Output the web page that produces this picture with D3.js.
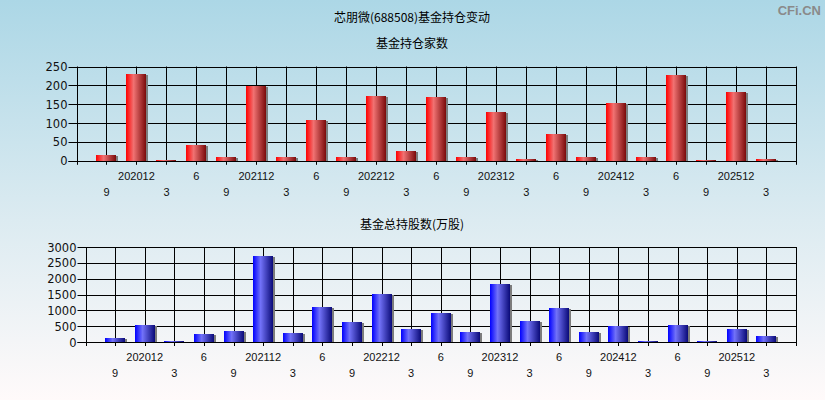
<!DOCTYPE html>
<html>
<head>
<meta charset="utf-8">
<script src="https://cdn.jsdelivr.net/npm/d3@7"></script>
<style>
  html, body { margin: 0; padding: 0; }
  svg { display: block; }
</style>
</head>
<body>
<svg id="chart" width="825" height="400"></svg>
<script>
// ---- data ----
const mainTitle = "芯朋微(688508)基金持仓变动";
const countTitle = "基金持仓家数";
const sharesTitle = "基金总持股数(万股)";
const periods = ["9","202012","3","6","9","202112","3","6","9","202212","3","6",
                 "9","202312","3","6","9","202412","3","6","9","202512","3"];
const fundCounts = [16,230,3,43,11,199,11,109,9,172,27,170,9,130,6,70,11,154,9,228,3,183,6];
const fundShares = [140,550,40,263,358,2730,295,1116,642,1527,421,927,326,1843,674,1085,326,495,42,547,30,421,200];
const countTicks = [0,50,100,150,200,250];
const shareTicks = [0,500,1000,1500,2000,2500,3000];

const svg = d3.select("#chart");
const W = 825, H = 400;

const defs = svg.append("defs");
const bg = defs.append("linearGradient").attr("id","bg").attr("x1",0).attr("y1",0).attr("x2",0).attr("y2",1);
bg.append("stop").attr("offset","0%").attr("stop-color","#acd7e6");
bg.append("stop").attr("offset","55%").attr("stop-color","#dcebf1");
bg.append("stop").attr("offset","100%").attr("stop-color","#fffafa");

function barGrad(id, c0, c1, c2) {
  const g = defs.append("linearGradient").attr("id", id).attr("x1",0).attr("y1",0).attr("x2",1).attr("y2",0);
  g.append("stop").attr("offset","0%").attr("stop-color",c0);
  g.append("stop").attr("offset","38%").attr("stop-color",c1);
  g.append("stop").attr("offset","100%").attr("stop-color",c2);
}
barGrad("redGrad", "#ff0000", "#f07272", "#7a0a0a");
barGrad("blueGrad", "#0000ff", "#7272f8", "#0a0a78");

svg.append("rect").attr("width",W).attr("height",H).attr("fill","url(#bg)");

// titles
svg.append("text").attr("x",412).attr("y",22).attr("text-anchor","middle")
  .attr("font-family","'Noto Sans CJK SC', sans-serif").attr("font-size",12).attr("fill","#000").text(mainTitle);
svg.append("text").attr("x",821).attr("y",15).attr("text-anchor","end")
  .attr("font-family","'Liberation Sans', Arial, sans-serif").attr("font-size",13).attr("font-weight","bold")
  .attr("fill","#8a8a8a").text("CFi.CN");

function panel(opts) {
  const {x0, x1, y0, y1, values, ticks, maxV, grad, title, titleY} = opts;
  const g = svg.append("g");
  svg.append("text").attr("x",412).attr("y",titleY).attr("text-anchor","middle")
    .attr("font-family","'Noto Sans CJK SC', sans-serif").attr("font-size",12).attr("fill","#000").text(title);

  const n = periods.length;
  const x = d3.scaleLinear().domain([0, n + 1]).range([x0, x1]);
  const y = d3.scaleLinear().domain([0, maxV]).range([y1, y0]);
  const px = v => Math.round(v) + 0.5;

  // horizontal grid + y ticks
  g.selectAll(".hg").data(ticks).join("line")
    .attr("x1", x0 - 8).attr("x2", x1).attr("y1", d => px(y(d))).attr("y2", d => px(y(d)))
    .attr("stroke","#000").attr("stroke-width",1);
  g.selectAll(".yl").data(ticks).join("text")
    .attr("x", x0 - 9).attr("y", d => y(d) + 4.5).attr("text-anchor","end")
    .attr("font-family","'DejaVu Sans', Verdana, sans-serif").attr("font-size",11.5).attr("fill","#111")
    .text(d => d);

  // vertical grid + x ticks
  const idx = d3.range(0, n + 2);
  g.selectAll(".vg").data(idx).join("line")
    .attr("x1", d => px(x(d))).attr("x2", d => px(x(d)))
    .attr("y1", y0).attr("y2", y1 + 4)
    .attr("stroke","#000").attr("stroke-width",1);

  // bars
  const bw = 20;
  const bars = g.selectAll(".bar").data(values).join("g");
  bars.append("rect")
    .attr("x", (d,i) => Math.round(x(i+1) - bw/2) + 2)
    .attr("y", d => Math.round(y(d)) + 1)
    .attr("width", bw).attr("height", d => Math.max(0, Math.round(y1) - Math.round(y(d)) - 1))
    .attr("fill","#7c7c7c");
  bars.append("rect")
    .attr("x", (d,i) => Math.round(x(i+1) - bw/2))
    .attr("y", d => Math.round(y(d)))
    .attr("width", bw).attr("height", d => Math.max(1, Math.round(y1) - Math.round(y(d))))
    .attr("fill", `url(#${grad})`);

  // axis line on top of bars
  g.append("line").attr("x1", x0).attr("x2", x1).attr("y1", px(y1)).attr("y2", px(y1))
    .attr("stroke","#000").attr("stroke-width",1);
  g.append("line").attr("x1", x0 - 8).attr("x2", x0).attr("y1", px(y1)).attr("y2", px(y1))
    .attr("stroke","#000").attr("stroke-width",1);

  // x labels alternating rows
  g.selectAll(".xl").data(periods).join("text")
    .attr("x", (d,i) => x(i+1))
    .attr("y", (d,i) => y1 + (i % 2 === 0 ? 35 : 19))
    .attr("text-anchor","middle")
    .attr("font-family","'Liberation Sans', Arial, sans-serif").attr("font-size",11).attr("fill","#111")
    .text(d => d);
}

panel({x0:76.5, x1:796, y0:66.5, y1:160.8, values:fundCounts, ticks:countTicks, maxV:250,
       grad:"redGrad", title:countTitle, titleY:48});
panel({x0:85.5, x1:796, y0:247, y1:342, values:fundShares, ticks:shareTicks, maxV:3000,
       grad:"blueGrad", title:sharesTitle, titleY:229});
</script>
</body>
</html>
